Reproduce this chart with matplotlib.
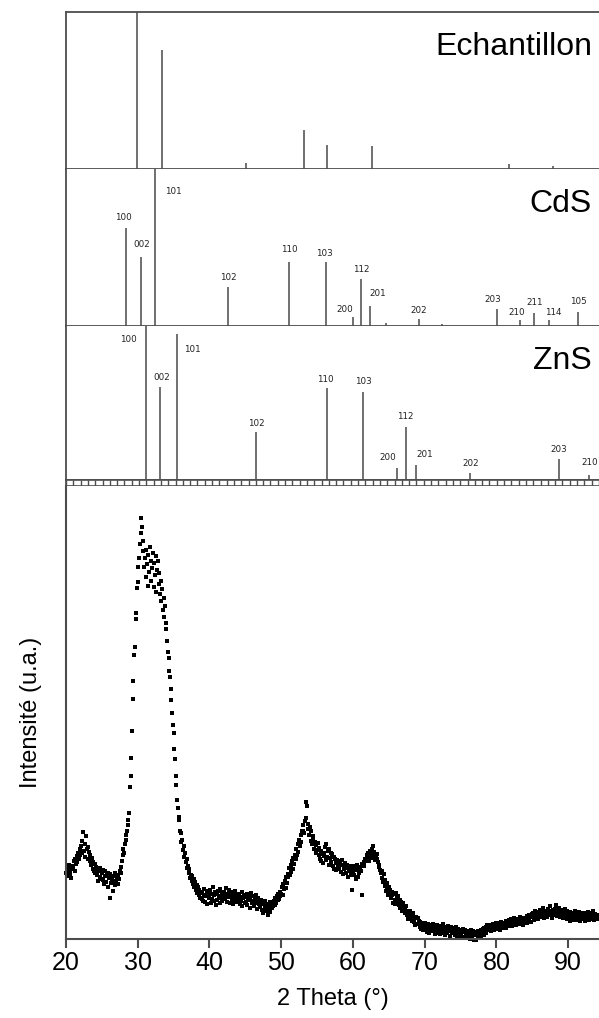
import numpy as np
import matplotlib

matplotlib.use("Agg")
import matplotlib.pyplot as plt
from matplotlib.ticker import MultipleLocator

# --- reference stick patterns (2-theta in deg, relative intensity in %) ---
ech_pos = [26.07, 28.96, 38.57, 45.20, 47.86, 53.07, 68.77, 73.91]
ech_int = [100, 75.8, 3.6, 24.8, 15.3, 14.8, 3.2, 2.1]

cds_hkl = ["100", "002", "101", "102", "110", "103", "200", "112", "201", "",
           "202", "", "203", "210", "211", "114", "105"]
cds_pos = [24.81, 26.55, 28.09, 36.51, 43.55, 47.73, 50.82, 51.81, 52.79, 54.61,
           58.41, 61.14, 67.39, 70.03, 71.73, 73.39, 76.79]
cds_int = [62.6, 44.1, 100, 24.6, 41.0, 40.6, 5.5, 29.9, 12.9, 1.9,
           4.5, 1.3, 10.8, 3.8, 8.1, 3.8, 8.7]

zns_hkl = ["100", "002", "101", "102", "110", "103", "200", "112", "201", "202", "203", "210"]
zns_pos = [27.02, 28.65, 30.66, 39.75, 47.86, 52.05, 55.92, 56.91, 58.13, 64.37, 74.54, 78.06]
zns_int = [100, 60.6, 94.8, 31.4, 59.9, 57.3, 7.6, 34.6, 9.7, 4.4, 13.6, 3.2]

# --- measured pattern: scan 20.0 -> 94.2 deg, step 0.1 deg, one row per degree ---
scan_start, scan_step = 20.0, 0.1
intensity_rows = [
    [66, 72, 63, 70, 74, 65, 69, 61, 73, 70],          # 20
    [72, 78, 68, 80, 75, 83, 77, 86, 80, 90],
    [84, 93, 86, 98, 107, 88, 95, 82, 103, 90],
    [92, 80, 87, 78, 84, 74, 81, 70, 77, 68],
    [75, 66, 72, 64, 70, 58, 68, 62, 71, 60],
    [66, 59, 69, 55, 63, 68, 57, 64, 52, 66],          # 25
    [61, 41, 65, 56, 60, 48, 63, 58, 54, 66],
    [58, 62, 55, 64, 60, 68, 66, 72, 78, 84],
    [90, 86, 95, 99, 104, 108, 114, 119, 126, 152],
    [163, 181, 208, 240, 258, 284, 292, 320, 326, 351],
    [357, 372, 381, 395, 406, 421, 412, 388, 398, 372],  # 30
    [381, 362, 389, 375, 353, 384, 367, 392, 358, 378],
    [371, 386, 352, 376, 364, 383, 347, 369, 378, 355],
    [366, 345, 358, 338, 350, 329, 341, 322, 333, 316],
    [310, 298, 287, 281, 268, 262, 250, 239, 226, 214],
    [206, 190, 180, 163, 154, 139, 131, 122, 119, 108],  # 35
    [106, 97, 99, 89, 93, 82, 86, 77, 80, 71],
    [73, 66, 70, 61, 64, 58, 63, 55, 60, 52],
    [57, 49, 54, 46, 52, 44, 49, 41, 47, 40],
    [46, 38, 44, 50, 37, 43, 48, 35, 45, 41],
    [42, 49, 36, 45, 40, 52, 38, 44, 47, 34],          # 40
    [45, 39, 48, 43, 36, 50, 41, 46, 38, 44],
    [47, 40, 44, 51, 37, 45, 42, 49, 36, 46],
    [43, 39, 47, 35, 44, 41, 48, 37, 42, 45],
    [39, 45, 35, 42, 38, 47, 33, 41, 44, 36],
    [42, 37, 45, 34, 40, 43, 31, 39, 46, 36],          # 45
    [38, 43, 33, 40, 36, 44, 30, 38, 41, 35],
    [37, 32, 39, 29, 35, 26, 36, 31, 38, 28],
    [33, 24, 35, 30, 37, 27, 34, 31, 36, 33],
    [38, 34, 41, 36, 43, 39, 45, 40, 47, 43],
    [45, 52, 44, 55, 50, 58, 51, 62, 56, 65],          # 50
    [62, 71, 64, 74, 67, 78, 70, 81, 75, 84],
    [80, 90, 84, 95, 87, 99, 93, 104, 97, 108],
    [108, 114, 106, 118, 121, 137, 133, 115, 110, 104],
    [112, 98, 108, 95, 103, 100, 90, 97, 86, 94],
    [89, 96, 84, 91, 80, 88, 78, 85, 76, 83],          # 55
    [86, 92, 79, 95, 82, 88, 74, 90, 81, 86],
    [77, 85, 73, 82, 70, 80, 76, 69, 79, 72],
    [78, 70, 76, 67, 74, 79, 65, 73, 70, 76],
    [71, 66, 74, 62, 70, 68, 73, 64, 71, 49],
    [67, 73, 64, 71, 60, 69, 74, 62, 70, 66],          # 60
    [72, 68, 75, 44, 74, 77, 73, 80, 78, 84],
    [80, 86, 78, 84, 88, 81, 90, 85, 93, 83],
    [87, 79, 84, 80, 85, 77, 74, 72, 69, 66],
    [68, 61, 57, 65, 53, 59, 48, 56, 51, 44],
    [52, 45, 49, 41, 47, 44, 36, 45, 39, 35],          # 65
    [46, 38, 41, 43, 34, 39, 31, 37, 33, 28],
    [36, 29, 32, 26, 33, 24, 28, 20, 27, 23],
    [28, 22, 25, 18, 26, 17, 21, 14, 22, 15],
    [21, 15, 18, 12, 17, 10, 16, 13, 9, 15],
    [16, 10, 13, 7, 15, 11, 6, 14, 9, 12],             # 70
    [13, 8, 15, 10, 5, 12, 9, 14, 6, 11],
    [8, 13, 5, 11, 9, 15, 6, 10, 12, 4],
    [11, 6, 13, 8, 10, 3, 9, 12, 6, 10],
    [6, 11, 4, 12, 8, 3, 10, 5, 9, 7],
    [8, 3, 9, 10, 2, 7, 9, 1, 6, 4],                  # 75
    [3, 8, 5, 0, 7, 9, 2, 5, 8, -1],
    [4, 7, -1, 6, 2, 8, 1, 6, 3, 9],
    [5, 10, 4, 11, 7, 12, 6, 14, 9, 13],
    [10, 14, 8, 13, 11, 15, 9, 14, 12, 16],
    [13, 10, 16, 12, 15, 9, 14, 17, 11, 15],           # 80
    [12, 16, 14, 18, 11, 15, 17, 13, 19, 14],
    [16, 20, 13, 18, 15, 21, 17, 14, 19, 16],
    [20, 15, 19, 22, 16, 18, 21, 14, 20, 17],
    [21, 18, 23, 16, 20, 24, 19, 22, 17, 25],
    [22, 26, 19, 25, 28, 21, 24, 27, 20, 26],          # 85
    [25, 29, 22, 27, 24, 31, 21, 26, 28, 23],
    [27, 22, 30, 25, 33, 24, 28, 21, 26, 29],
    [24, 30, 26, 34, 23, 28, 25, 31, 22, 27],
    [29, 24, 27, 21, 26, 30, 23, 25, 28, 20],
    [25, 21, 27, 18, 24, 22, 26, 19, 23, 28],          # 90
    [21, 25, 19, 24, 22, 27, 18, 23, 26, 20],
    [24, 20, 26, 22, 18, 25, 21, 27, 23, 19],
    [22, 26, 20, 24, 21, 28, 19, 23, 25, 22],
    [24, 20, 23],
]
intensity = np.concatenate([np.asarray(r, dtype=float) for r in intensity_rows])
two_theta = scan_start + scan_step * np.arange(intensity.size)

# label nudges in pixels (dx, dy from stick top); default is centred just above
NUDGE = {
    ("CdS", "100"): (-3, 10), ("CdS", "002"): (0, 12), ("CdS", "101"): (18, -22),
    ("CdS", "103"): (-1, 9), ("CdS", "110"): (0, 12), ("CdS", "200"): (-8, 8),
    ("CdS", "201"): (8, 12), ("CdS", "202"): (0, 8), ("CdS", "203"): (-4, 10),
    ("CdS", "210"): (-3, 8), ("CdS", "114"): (4, 8), ("CdS", "211"): (0, 11),
    ("CdS", "105"): (0, 11),
    ("ZnS", "100"): (-17, -13), ("ZnS", "002"): (2, 9), ("ZnS", "101"): (15, -15),
    ("ZnS", "102"): (0, 8), ("ZnS", "110"): (-1, 8), ("ZnS", "200"): (-9, 11),
    ("ZnS", "201"): (9, 11), ("ZnS", "210"): (0, 13),
}

W, H = 599, 1018
STICK_X = (17.87, 79.16)
SPINE = "#4d4d4d"
STICK = "#707070"


def box(x0, y0, x1, y1):
    """pixel box (top-left origin) -> figure fraction rect"""
    return [x0 / W, 1 - y1 / H, (x1 - x0) / W, (y1 - y0) / H]


def stick_panel(fig, rect, title, pos, inten, hkl=None, top_spine=False):
    ax = fig.add_axes(rect)
    ax.vlines(pos, 0, inten, color=STICK, lw=1.4)
    ax.set_xlim(*STICK_X)
    ax.set_ylim(0, 100)
    ax.set_xticks([]); ax.set_yticks([])
    ax.spines["right"].set_visible(False)
    ax.spines["top"].set_visible(top_spine)
    for s in ("left", "bottom", "top"):
        ax.spines[s].set_color(SPINE)
        ax.spines[s].set_linewidth(1.3)
    ax.text(0.987, 1 - 43 / (rect[3] * H), title, transform=ax.transAxes,
            ha="right", va="baseline", fontsize=23, family="Liberation Sans")
    if hkl:
        for p, h, lab in zip(pos, inten, hkl):
            if not lab:
                continue
            dx, dy = NUDGE.get((title, lab), (0, 10))
            ax.annotate(lab, xy=(p, h), xytext=(dx, dy), textcoords="offset pixels",
                        ha="center", va="center", fontsize=6.3, color="#222222",
                        family="DejaVu Sans", annotation_clip=False)
    return ax


def main() -> None:
    fig = plt.figure(figsize=(W / 100, H / 100), dpi=100)

    stick_panel(fig, box(66, 12, 599, 169), "Echantillon", ech_pos, ech_int, top_spine=True)
    stick_panel(fig, box(66, 169, 599, 326), "CdS", cds_pos, cds_int, cds_hkl)
    stick_panel(fig, box(66, 326, 599, 480), "ZnS", zns_pos, zns_int, zns_hkl)

    # film-strip separator
    ar = fig.add_axes(box(66, 480, 599, 486))
    ar.set_xlim(0, 73); ar.set_ylim(0, 1)
    ar.xaxis.set_major_locator(MultipleLocator(1))
    ar.tick_params(axis="x", direction="in", length=4.3, width=1.0, color=SPINE,
                   labelbottom=False)
    ar.set_yticks([])
    ar.spines["right"].set_visible(False)
    for s in ("left", "top", "bottom"):
        ar.spines[s].set_color(SPINE); ar.spines[s].set_linewidth(1.2)

    # measured diffractogram
    ax = fig.add_axes(box(66, 486, 599, 939))
    ax.scatter(two_theta, intensity, s=8, c="black", marker="s", linewidths=0, clip_on=False)
    ax.set_xlim(20, 94.3)
    ax.set_ylim(0, 453)
    ax.set_xticks([20, 30, 40, 50, 60, 70, 80, 90])
    ax.set_yticks([])
    ax.spines["top"].set_visible(False)
    ax.spines["right"].set_visible(False)
    for s in ("left", "bottom"):
        ax.spines[s].set_color(SPINE); ax.spines[s].set_linewidth(1.5)
    ax.tick_params(axis="x", direction="out", length=6.5, width=1.5, color=SPINE,
                   labelsize=18, pad=2.5)
    for t in ax.get_xticklabels():
        t.set_family("Liberation Sans")
    ax.set_xlabel("2 Theta (°)", fontsize=17, family="Liberation Sans", labelpad=9)
    ax.set_ylabel("Intensité (u.a.)", fontsize=17, family="Liberation Sans")
    ax.yaxis.set_label_coords(-0.045, 0.5)

    fig.savefig("out.png", dpi=100)


if __name__ == "__main__":
    main()
